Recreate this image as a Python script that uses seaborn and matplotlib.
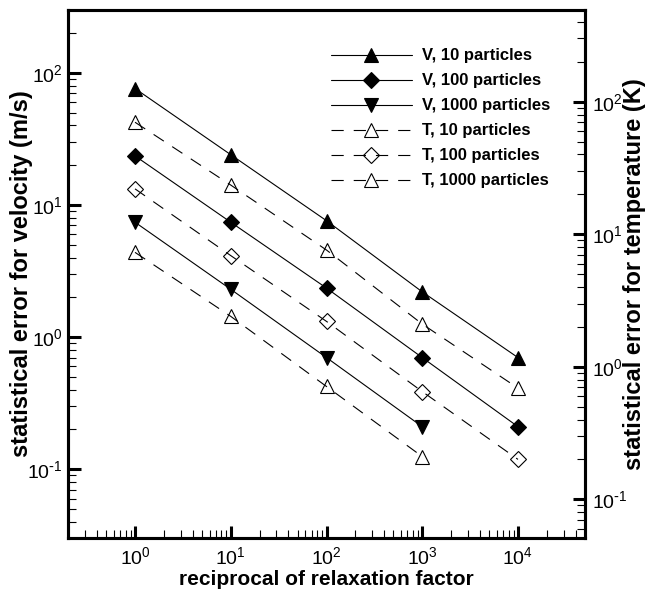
#!/usr/bin/env python3
"""Statistical error vs reciprocal of relaxation factor (log-log, twin y axes)."""

import numpy as np
import pandas as pd
import matplotlib
matplotlib.use('Agg')
import matplotlib.pyplot as plt
from matplotlib.ticker import LogLocator, FuncFormatter, NullFormatter
import seaborn as sns

# x values (reciprocal of relaxation factor)
recip = [1, 10, 100, 1000, 10000]

# velocity error (m/s) - left axis
v_10 = [76, 24, 7.6, 2.2, 0.70]
v_100 = [23.5, 7.4, 2.35, 0.70, 0.21]
v_1000 = [7.4, 2.3, 0.70, 0.21]

# temperature error (K) - right axis
t_10 = [70, 23.5, 7.6, 2.1, 0.69]
t_100 = [22, 6.9, 2.2, 0.65, 0.20]
t_1000 = [7.3, 2.4, 0.71, 0.21]

sns.set_style('ticks')
# narrow face for the tick numbers, regular one for labels / legend
plt.rcParams['font.family'] = ['Liberation Sans Narrow', 'Liberation Sans', 'DejaVu Sans']
plt.rcParams['mathtext.default'] = 'regular'
for key in ('text.color', 'axes.labelcolor', 'xtick.color', 'ytick.color', 'axes.edgecolor'):
    plt.rcParams[key] = 'black'

label_font = ['Liberation Sans', 'DejaVu Sans']


def pow10_label(val, pos):
    # 10^n with a short hyphen for negative exponents
    e = int(round(np.log10(val)))
    sign = r'\text{-}' if e < 0 else ''
    return r'$\mathdefault{10^{%s%d}}$' % (sign, abs(e))


fig = plt.figure(figsize=(6.47, 5.91), dpi=100)
ax = fig.add_axes([68/647, 1 - 538/591, 517/647, 528/591])
ax2 = ax.twinx()

solid = dict(color='black', linewidth=0.8, markeredgecolor='black',
             markeredgewidth=0.8, errorbar=None)
dashed = dict(color='black', linewidth=0.8, linestyle=(0, (11, 9)),
              markeredgecolor='black', markerfacecolor='none',
              markeredgewidth=0.8, errorbar=None)

sns.lineplot(x=recip, y=v_10, ax=ax, marker='^', markersize=10.5,
             label='V, 10 particles', **solid)
sns.lineplot(x=recip, y=v_100, ax=ax, marker='D', markersize=8,
             label='V, 100 particles', **solid)
sns.lineplot(x=recip[:4], y=v_1000, ax=ax, marker='v', markersize=10.5,
             label='V, 1000 particles', **solid)

sns.lineplot(x=recip, y=t_10, ax=ax2, marker='^', markersize=10.5,
             label='T, 10 particles', **dashed)
sns.lineplot(x=recip, y=t_100, ax=ax2, marker='D', markersize=8,
             label='T, 100 particles', **dashed)
sns.lineplot(x=recip[:4], y=t_1000, ax=ax2, marker='^', markersize=10.5,
             label='T, 1000 particles', **dashed)

for a in (ax, ax2):
    a.set_xscale('log')
    a.set_yscale('log')
ax.set_xlim(10 ** -0.70, 10 ** 4.70)
ax.set_ylim(10 ** -1.52, 10 ** 2.475)
ax2.set_ylim(10 ** -1.292, 10 ** 2.692)

for axis in (ax.xaxis, ax.yaxis, ax2.yaxis):
    axis.set_major_locator(LogLocator(base=10, numticks=20))
    axis.set_minor_locator(LogLocator(base=10, subs=range(2, 10), numticks=20))
    axis.set_major_formatter(FuncFormatter(pow10_label))
    axis.set_minor_formatter(NullFormatter())

ax.tick_params(axis='both', which='major', direction='in', length=9, width=2.2,
               labelsize=14, pad=4, top=False, right=False)
ax.tick_params(axis='both', which='minor', direction='in', length=5.5, width=0.8,
               top=False, right=False)
ax.tick_params(axis='x', which='major', pad=6)
ax2.tick_params(axis='y', which='major', direction='in', length=9, width=2.2,
                labelsize=14, pad=5)
ax2.tick_params(axis='y', which='minor', direction='in', length=5.5, width=0.8)

for a in (ax, ax2):
    for s in a.spines.values():
        s.set_linewidth(2.2)
        s.set_color('black')

ax.set_xlabel('reciprocal of relaxation factor', fontsize=15, fontweight='bold',
              family=label_font)
ax.set_ylabel('statistical error for velocity (m/s)', fontsize=17,
              fontweight='bold', family=label_font)
ax2.set_ylabel('statistical error for temperature (K)', fontsize=17,
               fontweight='bold', family=label_font)
ax.xaxis.set_label_coords(0.5, -0.061)
ax.yaxis.set_label_coords(-0.068, 0.5)
ax2.yaxis.set_label_coords(1.073, 0.5)

h1, l1 = ax.get_legend_handles_labels()
h2, l2 = ax2.get_legend_handles_labels()
if ax.get_legend() is not None:
    ax.get_legend().remove()
if ax2.get_legend() is not None:
    ax2.get_legend().remove()
ax2.legend(h1 + h2, l1 + l2, loc='upper left', bbox_to_anchor=(0.495, 0.94),
           frameon=False, handlelength=4.9, handletextpad=0.6, labelspacing=0.6,
           borderaxespad=0, numpoints=1,
           prop={'size': 12, 'weight': 'bold', 'family': label_font})

fig.savefig('out.png', dpi=100)
